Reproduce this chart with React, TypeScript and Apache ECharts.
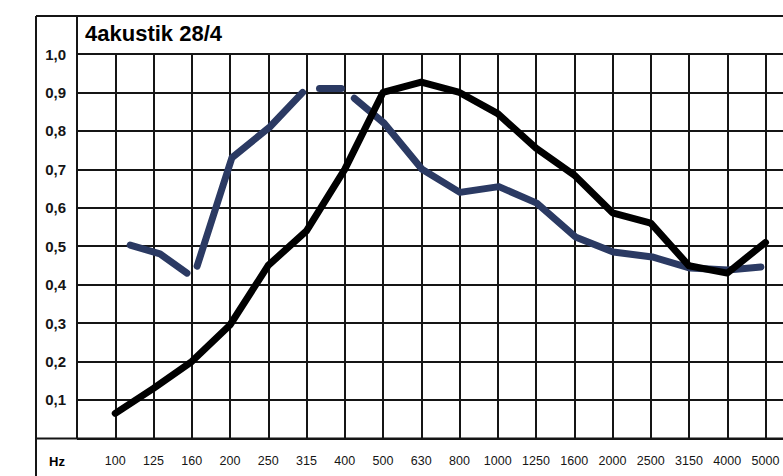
import React, { useEffect, useRef } from "react";
import * as echarts from "echarts";

const title = "4akustik 28/4";
const unitLabel = "Hz";
const categories = ["100", "125", "160", "200", "250", "315", "400", "500", "630", "800", "1000", "1250", "1600", "2000", "2500", "3150", "4000", "5000"];
const yTicks = [0, 0.1, 0.2, 0.3, 0.4, 0.5, 0.6, 0.7, 0.8, 0.9, 1.0];

// black curve: one value per frequency band
const blackValues = [0.065, 0.13, 0.2, 0.295, 0.45, 0.54, 0.7, 0.9, 0.927, 0.9, 0.845, 0.755, 0.685, 0.587, 0.56, 0.449, 0.43, 0.51];

// blue curve: hand-drawn segments, [band position, value]
const blueSeg1: [number, number][] = [[0.39, 0.503], [1.17, 0.48], [1.875, 0.43]];
const blueSeg2: [number, number][] = [[2.14, 0.448], [3.05, 0.73], [4.04, 0.81], [4.9, 0.9]];
const blueSeg3: [number, number][] = [[5.34, 0.91], [5.91, 0.91]];
const blueSeg4: [number, number][] = [[6.25, 0.885], [7.03, 0.82], [8.02, 0.7], [9.01, 0.64], [10.03, 0.655], [11.02, 0.612], [12.03, 0.524], [13.02, 0.485], [14.04, 0.472], [15.03, 0.443], [16.02, 0.438], [16.88, 0.446]];

const BLUE = "#2b3a63";
const INK = "#151515";

export default function App() {
  const ref = useRef<HTMLDivElement>(null);
  useEffect(() => {
    if (!ref.current) return;
    const chart = echarts.init(ref.current, undefined, { renderer: "svg" });
    const unit = 38.4;
    const left = 77;
    const top = 54;
    const height = 384.4;
    const bottom = top + height;
    const totalW = 845;
    const lineStyle = (color: string) => ({ color, width: 7, cap: "round", join: "round" });
    const blueSeries = [blueSeg1, blueSeg2, blueSeg3, blueSeg4].map((seg) => ({
      type: "line",
      data: seg,
      showSymbol: false,
      symbol: "none",
      lineStyle: lineStyle(BLUE),
      z: 3,
    }));
    chart.setOption({
      animation: false,
      backgroundColor: "#ffffff",
      grid: { left, top, width: unit * 20, height },
      xAxis: {
        type: "value",
        min: -1,
        max: 19,
        interval: 1,
        axisLine: { show: false },
        axisTick: { show: false },
        splitLine: { show: true, lineStyle: { color: INK, width: 2 } },
        axisLabel: {
          margin: 16,
          color: INK,
          fontSize: 12.5,
          fontFamily: "Liberation Sans, Arial, sans-serif",
          formatter: (v: number) => categories[Math.round(v)] ?? "",
        },
      },
      yAxis: {
        type: "value",
        min: yTicks[0],
        max: yTicks[yTicks.length - 1],
        interval: 0.1,
        axisLine: { show: false },
        axisTick: { show: false },
        splitLine: { show: true, lineStyle: { color: INK, width: 2 } },
        axisLabel: {
          margin: 11,
          color: INK,
          fontSize: 15,
          fontWeight: "bold",
          fontFamily: "Liberation Sans, Arial, sans-serif",
          formatter: (v: number) => (v === 0 ? "" : v.toFixed(1).replace(".", ",")),
        },
      },
      graphic: [
        { type: "line", silent: true, z: 10, shape: { x1: 36, y1: 16, x2: totalW, y2: 16 }, style: { stroke: INK, lineWidth: 2 } },
        { type: "line", silent: true, z: 10, shape: { x1: 36, y1: 16, x2: 36, y2: 476 }, style: { stroke: INK, lineWidth: 2 } },
        { type: "line", silent: true, z: 10, shape: { x1: left, y1: 16, x2: left, y2: bottom }, style: { stroke: INK, lineWidth: 2 } },
        { type: "line", silent: true, z: 10, shape: { x1: 36, y1: bottom, x2: totalW, y2: bottom }, style: { stroke: INK, lineWidth: 2 } },
        {
          type: "text",
          x: 85,
          y: 33,
          style: { text: title, fill: "#000", font: "bold 22px 'Liberation Sans', Arial, sans-serif", textVerticalAlign: "middle" },
        },
        {
          type: "text",
          x: 57,
          y: 461,
          style: { text: unitLabel, fill: "#000", font: "bold 13px 'Liberation Sans', Arial, sans-serif", textAlign: "center", textVerticalAlign: "middle" },
        },
      ],
      series: [
        {
          type: "line",
          data: blackValues.map((v, i) => [i, v]),
          showSymbol: false,
          symbol: "none",
          lineStyle: lineStyle("#000000"),
          z: 4,
        },
        ...blueSeries,
      ],
    });
    return () => chart.dispose();
  }, []);
  return (
    <div style={{ position: "fixed", left: 0, top: 0, width: 783, height: 476, overflow: "hidden", background: "#fff" }}>
      <div ref={ref} style={{ width: 845, height: 476 }} />
    </div>
  );
}
